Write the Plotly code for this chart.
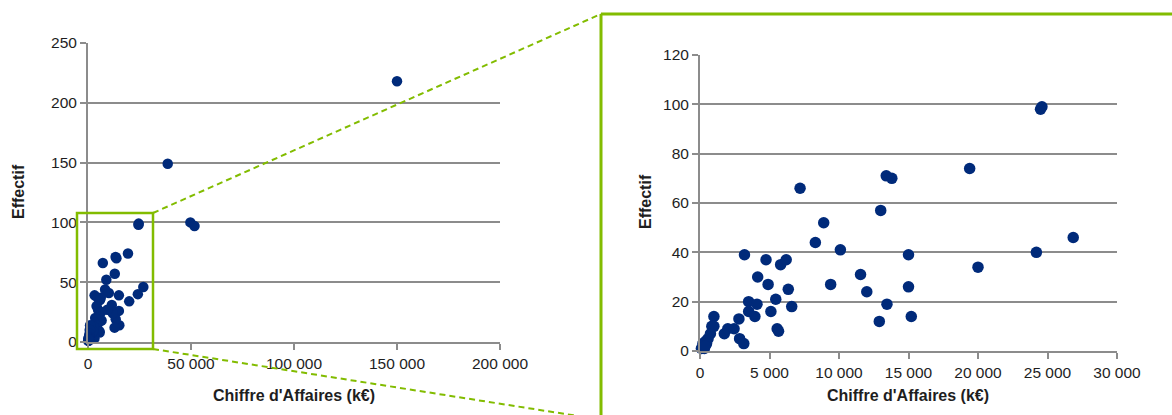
import plotly.graph_objects as go

# ---- data ----
ca_k = [24500, 24600, 19400, 13400, 13800, 7200, 13000, 8900, 8300, 10100,
        26850, 24200, 20000, 15000, 15000, 15200, 13450, 12900, 12000, 11550,
        9400, 3200, 4750, 5800, 6200, 4150, 4900, 6350, 5450, 6600,
        5100, 3500, 4100, 3500, 3950, 5550, 5650, 2800, 2850, 3150,
        1750, 2000, 2450, 1000, 850, 1000, 750, 580, 420, 210,
        100, 315, 470, 370,
        38700, 49700, 51700, 150000]
effectif = [98, 99, 74, 71, 70, 66, 57, 52, 44, 41,
            46, 40, 34, 39, 26, 14, 19, 12, 24, 31,
            27, 39, 37, 35, 37, 30, 27, 25, 21, 18,
            16, 20, 19, 16, 14, 9, 8, 13, 5, 3,
            7, 9, 9, 14, 10, 10, 7, 5, 4, 3,
            1, 1, 3, 2,
            149, 100, 97, 218]

left_xticks = [0, 50000, 100000, 150000, 200000]
left_xtext = ["0", "50 000", "100 000", "150 000", "200 000"]
left_yticks = [0, 50, 100, 150, 200, 250]
right_xticks = [0, 5000, 10000, 15000, 20000, 25000, 30000]
right_xtext = ["0", "5 000", "10 000", "15 000", "20 000", "25 000", "30 000"]
right_yticks = [0, 20, 40, 60, 80, 100, 120]

zoom_x = [x for x, y in zip(ca_k, effectif) if x <= 30000 and y <= 120]
zoom_y = [y for x, y in zip(ca_k, effectif) if x <= 30000 and y <= 120]

x_title = "Chiffre d'Affaires (k€)"
y_title = "Effectif"

# ---- styling ----
W, H = 1172, 415
NAVY = "#002A7A"
GREEN = "#82BC00"
GRID = "#8C8C8C"
FONT = "Liberation Sans, Arial, sans-serif"

def px(xp):
    return xp / W

def py(yp):
    return 1 - yp / H

fig = go.Figure()
fig.add_trace(go.Scatter(x=ca_k, y=effectif, mode="markers",
                         marker=dict(color=NAVY, size=10.5, line=dict(width=0)),
                         cliponaxis=False, xaxis="x", yaxis="y", showlegend=False))
fig.add_trace(go.Scatter(x=zoom_x, y=zoom_y, mode="markers",
                         marker=dict(color=NAVY, size=11.5, line=dict(width=0)),
                         cliponaxis=False, xaxis="x2", yaxis="y2", showlegend=False))

axis_common = dict(showline=True, linecolor=GRID, linewidth=2,
                   ticks="outside", ticklen=6, tickwidth=2, tickcolor=GRID,
                   tickfont=dict(family=FONT, size=15.5, color="#1E1E1E"),
                   zeroline=False, fixedrange=True, automargin=False)

fig.update_layout(
    template="none",
    width=W, height=H,
    margin=dict(l=0, r=0, t=0, b=0, pad=0, autoexpand=False),
    paper_bgcolor="white", plot_bgcolor="white",
    font=dict(family=FONT),
    showlegend=False,
    xaxis=dict(domain=[px(88), px(500)], range=[0, 200000], anchor="y",
               tickvals=left_xticks, ticktext=left_xtext, showgrid=False,
               **axis_common),
    yaxis=dict(domain=[py(342), py(43)], range=[0, 250], anchor="x",
               tickvals=left_yticks, showgrid=True, gridcolor=GRID, gridwidth=2,
               **axis_common),
    xaxis2=dict(domain=[px(700), px(1117)], range=[0, 30000], anchor="y2",
                tickvals=right_xticks, ticktext=right_xtext, showgrid=False,
                **axis_common),
    yaxis2=dict(domain=[py(351), py(55)], range=[0, 120], anchor="x2",
                tickvals=right_yticks, showgrid=True, gridcolor=GRID, gridwidth=2,
                **axis_common),
)

title_font = dict(family=FONT, size=16, color="#1E1E1E")
ann = dict(xref="paper", yref="paper", showarrow=False, font=title_font,
           xanchor="center", yanchor="middle")
fig.add_annotation(text="<b>" + x_title + "</b>", x=px(294), y=py(395), **ann)
fig.add_annotation(text="<b>" + x_title + "</b>", x=px(908), y=py(395), **ann)
fig.add_annotation(text="<b>" + y_title + "</b>", x=px(18), y=py(192), textangle=-90, **ann)
fig.add_annotation(text="<b>" + y_title + "</b>", x=px(646), y=py(202), textangle=-90, **ann)

# zoom decoration
fig.add_shape(type="rect", xref="paper", yref="paper",
              x0=px(77), x1=px(153), y0=py(349), y1=py(213),
              line=dict(color=GREEN, width=2.5), layer="above")
fig.add_shape(type="line", xref="paper", yref="paper",
              x0=px(601), x1=px(1180), y0=py(14), y1=py(14),
              line=dict(color=GREEN, width=3))
fig.add_shape(type="line", xref="paper", yref="paper",
              x0=px(601), x1=px(601), y0=py(14), y1=py(420),
              line=dict(color=GREEN, width=3))
fig.add_shape(type="line", xref="paper", yref="paper",
              x0=px(153), x1=px(601), y0=py(213), y1=py(14),
              line=dict(color=GREEN, width=2, dash="6px,4px"))
fig.add_shape(type="line", xref="paper", yref="paper",
              x0=px(153), x1=px(578), y0=py(349), y1=py(416),
              line=dict(color=GREEN, width=2, dash="6px,4px"))

fig.write_html("out.html", config={"displayModeBar": False},
               post_script="document.body.style.margin='0';")
